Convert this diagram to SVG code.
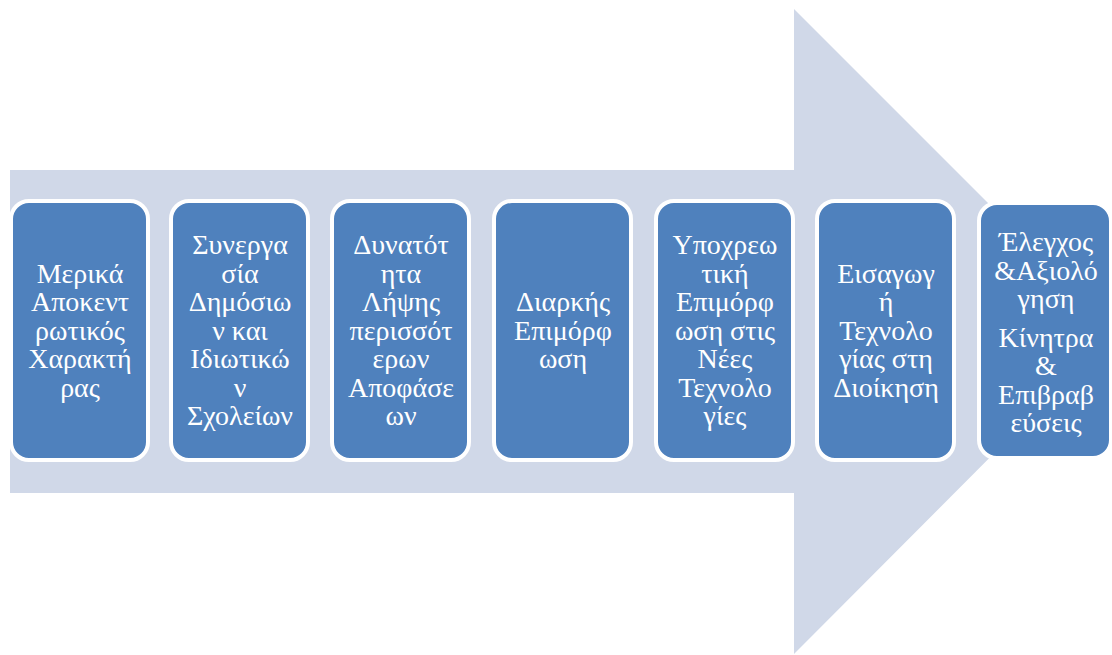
<svg xmlns="http://www.w3.org/2000/svg" width="1112" height="655" viewBox="0 0 1112 655">
<style>
.box{fill:#4F81BD;stroke:#FFFFFF;stroke-width:4}
.t{font-family:"Liberation Serif","DejaVu Serif",serif;font-size:28px;fill:#FFFFFF;text-anchor:middle}
</style>
<rect width="1112" height="655" fill="#FFFFFF"/>
<g id="arrow">
<polygon points="10,170 794,170 794,9 1116,331 794,654 794,493 10,493" fill="#D0D8E8"/>
</g>
<g id="node1">
<rect class="box" x="11" y="201" width="137" height="259" rx="18"/>
<text class="t"><tspan x="80" y="283">Μερικά</tspan><tspan x="80" y="311">Αποκεντ</tspan><tspan x="80" y="340">ρωτικός</tspan><tspan x="80" y="368">Χαρακτή</tspan><tspan x="80" y="397">ρας</tspan></text>
</g>
<g id="node2">
<rect class="box" x="171" y="201" width="137" height="259" rx="18"/>
<text class="t"><tspan x="240" y="254">Συνεργα</tspan><tspan x="240" y="283">σία</tspan><tspan x="240" y="311">Δημόσιω</tspan><tspan x="240" y="340">ν και</tspan><tspan x="240" y="368">Ιδιωτικώ</tspan><tspan x="240" y="397">ν</tspan><tspan x="240" y="425">Σχολείων</tspan></text>
</g>
<g id="node3">
<rect class="box" x="332" y="201" width="137" height="259" rx="18"/>
<text class="t"><tspan x="401" y="254">Δυνατότ</tspan><tspan x="401" y="283">ητα</tspan><tspan x="401" y="311">Λήψης</tspan><tspan x="401" y="340">περισσότ</tspan><tspan x="401" y="368">ερων</tspan><tspan x="401" y="397">Αποφάσε</tspan><tspan x="401" y="425">ων</tspan></text>
</g>
<g id="node4">
<rect class="box" x="494" y="201" width="137" height="259" rx="18"/>
<text class="t"><tspan x="563" y="311">Διαρκής</tspan><tspan x="563" y="340">Επιμόρφ</tspan><tspan x="563" y="368">ωση</tspan></text>
</g>
<g id="node5">
<rect class="box" x="656" y="201" width="137" height="259" rx="18"/>
<text class="t"><tspan x="725" y="254">Υποχρεω</tspan><tspan x="725" y="283">τική</tspan><tspan x="725" y="311">Επιμόρφ</tspan><tspan x="725" y="340">ωση στις</tspan><tspan x="725" y="368">Νέες</tspan><tspan x="725" y="397">Τεχνολο</tspan><tspan x="725" y="425">γίες</tspan></text>
</g>
<g id="node6">
<rect class="box" x="817" y="201" width="137" height="259" rx="18"/>
<text class="t"><tspan x="886" y="283">Εισαγωγ</tspan><tspan x="886" y="311">ή</tspan><tspan x="886" y="340">Τεχνολο</tspan><tspan x="886" y="368">γίας στη</tspan><tspan x="886" y="397">Διοίκηση</tspan></text>
</g>
<g id="node7">
<rect class="box" x="979" y="203" width="132" height="255" rx="18"/>
<text class="t"><tspan x="1046" y="251">Έλεγχος</tspan><tspan x="1046" y="280">&amp;Αξιολό</tspan><tspan x="1046" y="308">γηση</tspan><tspan x="1046" y="347">Κίνητρα</tspan><tspan x="1046" y="375">&amp;</tspan><tspan x="1046" y="404">Επιβραβ</tspan><tspan x="1046" y="432">εύσεις</tspan></text>
</g>
<g id="connectors"></g>
</svg>
